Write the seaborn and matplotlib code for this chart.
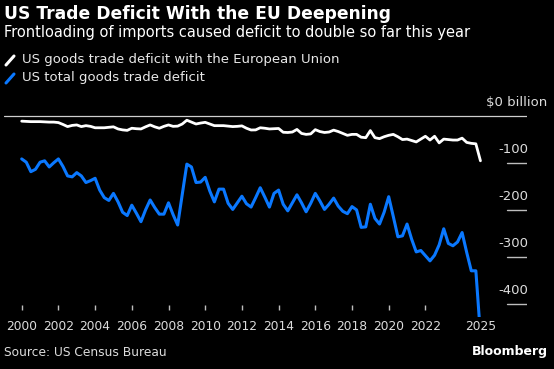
import numpy as np
import pandas as pd
import matplotlib
matplotlib.use("Agg")
import matplotlib.pyplot as plt
import matplotlib.transforms as mtransforms
from matplotlib.lines import Line2D
import seaborn as sns

# ---------------- data (quarterly, $ billion) ----------------
start_year = 2000
quarters_per_year = 4

total_deficit = [
    -92, -99, -119, -114, -99, -96, -109, -100, -92, -108,
    -128, -130, -121, -128, -142, -138, -133, -158, -174, -180,
    -165, -183, -205, -212, -190, -207, -225, -200, -179, -195,
    -209, -209, -185, -210, -232, -167, -103, -109, -142, -141,
    -131, -160, -183, -156, -156, -186, -199, -185, -171, -187,
    -194, -174, -153, -173, -194, -165, -158, -188, -202, -185,
    -168, -185, -204, -186, -165, -181, -199, -188, -175, -192,
    -203, -208, -193, -200, -237, -236, -188, -218, -230, -205,
    -172, -214, -257, -255, -230, -262, -289, -286, -297, -308,
    -296, -274, -240, -271, -276, -268, -248, -290, -329, -329,
    -465,
]

eu_deficit = [
    -12, -12.5, -13, -13, -13, -13.5, -14, -14, -15, -19,
    -23.5, -21, -20, -23.5, -21.5, -23, -26, -26, -26, -25,
    -24, -28.5, -30.5, -31.5, -27, -28, -28.5, -24, -20, -24,
    -27, -23, -20, -23, -22.5, -18, -10, -14, -18, -16,
    -14.5, -18, -21.5, -21.5, -21.5, -22.5, -23.5, -23, -22, -27,
    -30.7, -30.5, -26, -27, -28.5, -28, -27.5, -35.5, -36, -35,
    -29.5, -38, -40, -39, -30, -34, -36, -35, -31, -34,
    -38, -42, -40, -40, -46, -47, -32, -47, -49, -45,
    -42, -40, -45, -51, -50, -53, -56, -50, -44, -52,
    -44, -58, -50, -51, -52, -52, -48, -57, -59, -60,
    -96,
]

series_names = ["US goods trade deficit with the European Union",
                "US total goods trade deficit"]
x_tick_years = [2000, 2002, 2004, 2006, 2008, 2010, 2012, 2014, 2016,
                2018, 2020, 2022, 2025]
y_tick_values = [-100, -200, -300, -400]
y_tick_labels = ["-100", "-200", "-300", "-400"]

# ---------------- build frame ----------------
n = len(total_deficit)
time = [start_year + i / quarters_per_year for i in range(n)]
df = pd.DataFrame({
    "time": time * 2,
    "value": eu_deficit + total_deficit,
    "series": [series_names[0]] * n + [series_names[1]] * n,
})

# ---------------- style ----------------
sns.set_style("dark", {"axes.facecolor": "black", "figure.facecolor": "black"})
plt.rcParams["font.family"] = ["DejaVu Sans"]

W, H = 554, 369
fig = plt.figure(figsize=(W / 100, H / 100), dpi=100, facecolor="black")

ax_left, ax_right, ax_top, ax_bottom = 4, 527, 108, 317
ax = fig.add_axes([ax_left / W, 1 - ax_bottom / H,
                   (ax_right - ax_left) / W, (ax_bottom - ax_top) / H])
ax.set_facecolor("black")

white = "#ffffff"
blue = "#0a78ff"
palette = {series_names[0]: white, series_names[1]: blue}

sns.lineplot(data=df, x="time", y="value", hue="series", palette=palette,
             hue_order=[series_names[1], series_names[0]],
             linewidth=2.2, ax=ax, legend=False)
for line in ax.lines:
    if line.get_color() in (white, "#ffffff", "white"):
        line.set_linewidth(2.0)

# axis limits
px_per_year = 18.35
x0_px = 21.7
ax.set_xlim(2000 - (x0_px - ax_left) / px_per_year,
            2000 + (ax_right - x0_px) / px_per_year)
zero_px = 115.5
px_per_unit = 0.472
ax.set_ylim(-(ax_bottom - zero_px) / px_per_unit, (zero_px - ax_top) / px_per_unit)

for s in ax.spines.values():
    s.set_visible(False)
ax.grid(False)
ax.set_xlabel("")
ax.set_ylabel("")

# zero line
ax.axhline(0, color="#cfcfcf", linewidth=0.9, zorder=1)

# y ticks: short marks at right, labels above
ax.set_yticks([])
frac_start = (507 - ax_left) / (ax_right - ax_left)
label_color = "#dcdcdc"
trans_y = mtransforms.blended_transform_factory(ax.transAxes, ax.transData)
for v, lab in zip(y_tick_values, y_tick_labels):
    ax.axhline(v, xmin=frac_start, xmax=1.0, color="#bdbdbd", linewidth=1.0)
    t = mtransforms.offset_copy(trans_y, fig=fig, x=1.5, y=7, units="dots")
    ax.text(1.0, v, lab, transform=t, ha="right", va="bottom",
            color=label_color, fontsize=9.5)
t0 = mtransforms.offset_copy(trans_y, fig=fig, x=20, y=7, units="dots")
ax.text(1.0, 0, "$0 billion", transform=t0, ha="right", va="bottom",
        color=label_color, fontsize=9.5)

# x ticks
ax.set_xticks(x_tick_years)
ax.set_xticklabels([str(y) for y in x_tick_years], color=label_color, fontsize=8.8)
ax.tick_params(axis="x", length=0, pad=2)
ax.tick_params(axis="y", length=0)
trans_x = mtransforms.blended_transform_factory(ax.transData, ax.transAxes)
mark_lo = (ax_bottom - 310) / (ax_bottom - ax_top)
mark_hi = (ax_bottom - 305) / (ax_bottom - ax_top)
ax.vlines(x_tick_years[:-1], mark_lo, mark_hi, transform=trans_x,
          color="#bdbdbd", linewidth=1.0)

# ---------------- titles & legend ----------------
fig.text(4 / W, 1 - 14 / H, "US Trade Deficit With the EU Deepening",
         color="white", fontsize=12.3, fontweight="bold", va="center", ha="left")
fig.text(4 / W, 1 - 33 / H,
         "Frontloading of imports caused deficit to double so far this year",
         color="white", fontsize=10.5, va="center", ha="left")

for yc, col, name in [(60, white, series_names[0]), (78, blue, series_names[1])]:
    fig.add_artist(Line2D([6 / W, 14 / W], [1 - (yc + 5) / H, 1 - (yc - 4) / H],
                          color=col, linewidth=2.2, transform=fig.transFigure))
    fig.text(22 / W, 1 - yc / H, name, color="#e8e8e8", fontsize=9.5,
             va="center", ha="left")

fig.text(4 / W, 1 - 353 / H, "Source: US Census Bureau", color="#dcdcdc",
         fontsize=8.8, va="center", ha="left")
fig.text(548 / W, 1 - 352 / H, "Bloomberg", color="white", fontsize=9,
         fontweight="bold", va="center", ha="right")

fig.savefig("out.png", dpi=100, facecolor="black")
